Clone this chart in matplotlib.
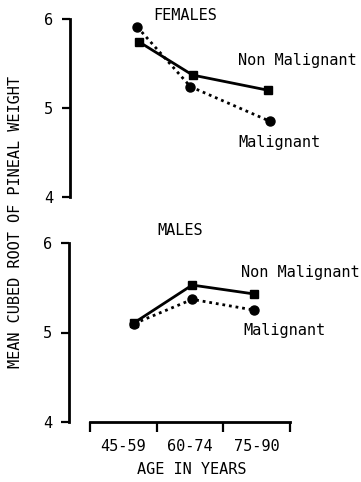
import matplotlib.pyplot as plt

# Data
age_ticks = [45, 60, 75, 90]
age_labels = ['45-59', '60-74', '75-90']
label_pos = [52.5, 67.5, 82.5]

fem_age_nm = [56, 68, 85]
fem_nonmal = [5.74, 5.37, 5.20]
fem_age_m = [55.5, 67.5, 85.5]
fem_mal = [5.91, 5.24, 4.85]

male_age_nm = [55, 68, 82]
male_nonmal = [5.11, 5.53, 5.43]
male_age_m = [55, 68, 82]
male_mal = [5.10, 5.37, 5.25]

plt.rcParams['font.family'] = ['DejaVu Sans Mono']
plt.rcParams['font.size'] = 11

W, H = 361, 482
fig = plt.figure(figsize=(W / 100, H / 100), dpi=100)

def px_axes(left, top, right, bottom):
    return fig.add_axes([left / W, 1 - bottom / H, (right - left) / W, (bottom - top) / H])

ax_f = px_axes(70, 19, 290, 197)
ax_m = px_axes(69, 243, 290, 422)

for ax in (ax_f, ax_m):
    ax.set_ylim(4, 6)
    ax.set_xlim(40.3, 90)
    ax.set_yticks([4, 5, 6])
    ax.spines['top'].set_visible(False)
    ax.spines['right'].set_visible(False)
    ax.spines['left'].set_linewidth(2.0)
    ax.tick_params(axis='y', length=6, width=1.6, pad=6, labelsize=11)
    ax.patch.set_alpha(0)

ax_f.spines['bottom'].set_visible(False)
ax_f.set_xticks([])

ax_m.spines['bottom'].set_bounds(45, 90)
ax_m.spines['bottom'].set_linewidth(2.0)
ax_m.set_xticks(age_ticks)
ax_m.set_xticklabels([])
ax_m.set_xticks(label_pos, minor=True)
ax_m.set_xticklabels(age_labels, minor=True)
ax_m.tick_params(axis='x', which='major', length=7, width=1.6)
ax_m.tick_params(axis='x', which='minor', length=0, pad=12, labelsize=11)

line_kw = dict(color='black', linewidth=2.0, clip_on=False)
for ax, xa, nm, xm, m in ((ax_f, fem_age_nm, fem_nonmal, fem_age_m, fem_mal),
                          (ax_m, male_age_nm, male_nonmal, male_age_m, male_mal)):
    ax.plot(xa, nm, linestyle='-', marker='s', markersize=5.5, **line_kw)
    ax.plot(xm, m, linestyle=(0, (1, 1.4)), marker='o', markersize=6.5, **line_kw)

ax_f.text(185 / W, 1 - 15 / H, 'FEMALES', transform=fig.transFigure, ha='center', va='center', fontsize=11)
ax_f.text(238 / W, 1 - 60 / H, 'Non Malignant', transform=fig.transFigure, ha='left', va='center', fontsize=11)
ax_f.text(238 / W, 1 - 143 / H, 'Malignant', transform=fig.transFigure, ha='left', va='center', fontsize=11)
ax_m.text(180 / W, 1 - 230 / H, 'MALES', transform=fig.transFigure, ha='center', va='center', fontsize=11)
ax_m.text(241 / W, 1 - 272 / H, 'Non Malignant', transform=fig.transFigure, ha='left', va='center', fontsize=11)
ax_m.text(243 / W, 1 - 330 / H, 'Malignant', transform=fig.transFigure, ha='left', va='center', fontsize=11)

fig.text(16 / W, 1 - 222 / H, 'MEAN CUBED ROOT OF PINEAL WEIGHT', rotation=90,
         ha='center', va='center', fontsize=11)
fig.text(192 / W, 1 - 470 / H, 'AGE IN YEARS', ha='center', va='center', fontsize=11)

fig.savefig('out.png', dpi=100)
